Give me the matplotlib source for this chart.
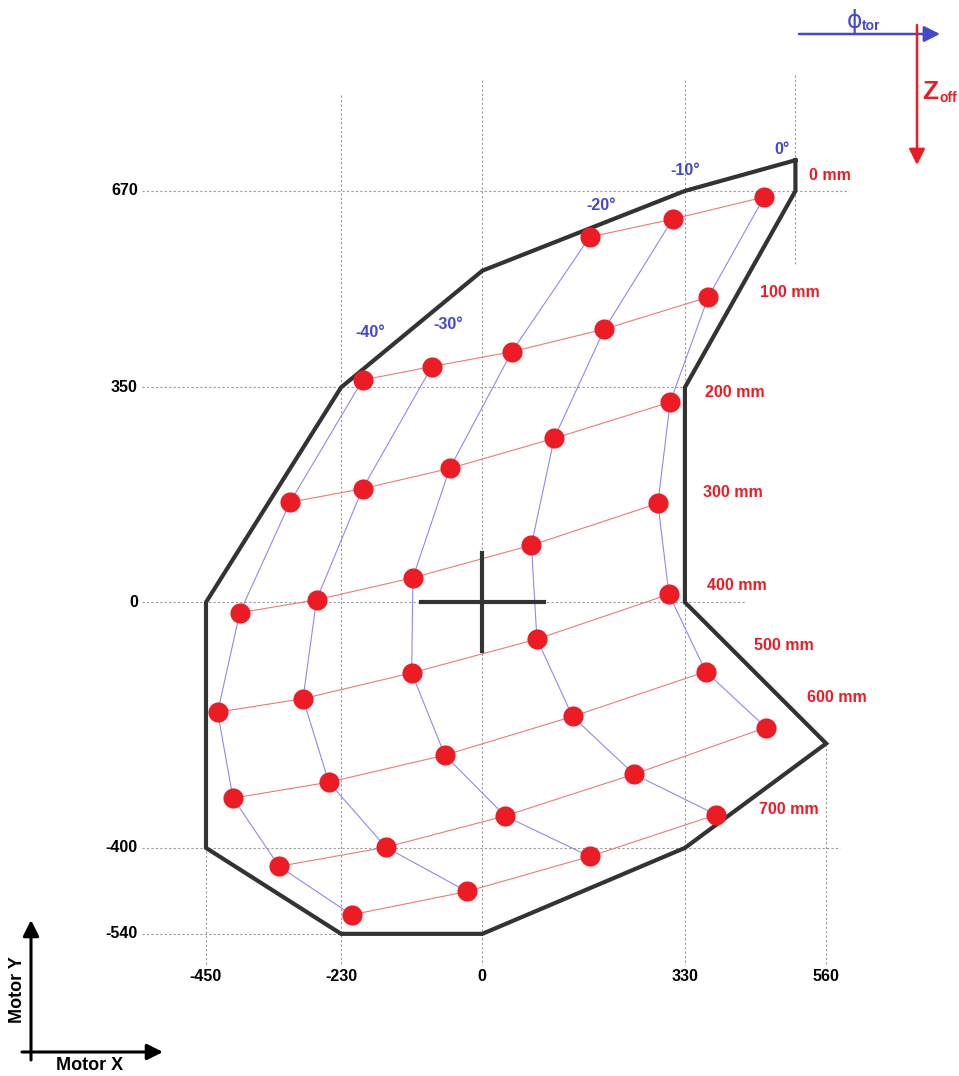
import numpy as np
import matplotlib.pyplot as plt

plt.rcParams['font.family'] = ['Liberation Sans', 'DejaVu Sans']
plt.rcParams['font.weight'] = 'bold'

#############################################################################
# data
#############################################################################

z_off = [0, 100, 200, 300, 400, 500, 600, 700]      # mm, one row each
phi_tor = [0, -10, -20, -30, -40]                    # deg, one column each

nan = np.nan
# motor X / motor Y of each calibration point [row = z_off][col = phi_tor]
motor_x = [
    [459, 310, 175, nan, nan],
    [368, 199, 48, -82, -195],
    [306, 117, -53, -195, -313],
    [286, 80, -113, -270, -395],
    [304, 89, -115, -292, -431],
    [364, 147, -61, -250, -406],
    [462, 247, 37, -157, -331],
    [nan, 381, 175, -25, -213],
]
motor_y = [
    [660, 624, 595, nan, nan],
    [497, 445, 408, 384, 362],
    [326, 267, 218, 185, 163],
    [161, 93, 40, 4, -17],
    [13, -60, -115, -157, -179],
    [-113, -186, -249, -293, -319],
    [-204, -280, -348, -399, -430],
    [nan, -346, -414, -471, -509],
]

# travel limit of the motors
limit_x = [510, 510, 330, 330, 560, 330, 0, -230, -450, -450, -230, 0, 330, 510]
limit_y = [720, 670, 350, 0, -230, -400, -540, -540, -400, 0, 350, 540, 670, 720]

x_ticks = [-450, -230, 0, 330, 560]
y_ticks = [670, 350, 0, -400, -540]

mx = np.array(motor_x, dtype=float)
my = np.array(motor_y, dtype=float)

#############################################################################
# plot
#############################################################################

red = '#ed1c24'
blue = '#4348cc'
dark = '#333333'
grey = '#9a9a9a'

fig = plt.figure(figsize=(9.59, 10.76), dpi=100)
ax = fig.add_axes([0, 0, 1, 1])
ax.set_xlim(-785.5, 776.4)
ax.set_ylim(-771.5, 980.9)
ax.set_aspect('equal')
ax.axis('off')

# dotted guide lines
dot = dict(color=grey, lw=0.8, ls=(0, (2, 2)), zorder=1)
for x, y0, y1 in [(-450, 0, -590), (-230, 826, -590), (0, 850, -590),
                  (330, 850, -590), (560, -230, -590), (510, 858, 549)]:
    ax.plot([x, x], [y0, y1], **dot)
for y, x0, x1 in [(670, -555, 598), (350, -555, 330), (0, -555, 430),
                  (-400, -555, 582), (-540, -555, 0)]:
    ax.plot([x0, x1], [y, y], **dot)

# limit polygon
ax.plot(limit_x, limit_y, color=dark, lw=3, solid_joinstyle='miter', zorder=3)

# centre cross
ax.plot([-100, 100], [0, 0], color=dark, lw=3, zorder=3)
ax.plot([0, 0], [-80, 80], color=dark, lw=3, zorder=3)

# constant z rows (red) and constant angle columns (blue)
for i in range(len(z_off)):
    ok = ~np.isnan(mx[i])
    ax.plot(mx[i][ok], my[i][ok], color='#f07878', lw=0.8, zorder=2)
for j in range(len(phi_tor)):
    ok = ~np.isnan(mx[:, j])
    ax.plot(mx[:, j][ok], my[:, j][ok], color='#8c8ce8', lw=0.8, zorder=2)

ax.plot(mx.ravel(), my.ravel(), 'o', color=red, ms=14.5, mew=0, zorder=4)

# row / column labels
mm_pos = [(567, 695), (501, 504), (412, 341), (408, 178),
          (414, 27), (491, -71), (577, -155), (500, -338)]
for z, (x, y) in zip(z_off, mm_pos):
    ax.text(x, y, '{} mm'.format(z), color=red, fontsize=11.5, fontweight='bold',
            ha='center', va='center')
ang_pos = [(488, 738), (330, 703), (194, 647), (-55, 452), (-183, 439)]
for p, (x, y) in zip(phi_tor, ang_pos):
    ax.text(x, y, '{}°'.format(p), color=blue, fontsize=11.5, fontweight='bold',
            ha='center', va='center')

# tick labels
for x in x_ticks:
    ax.text(x, -610, str(x), fontsize=11.5, fontweight='bold', ha='center', va='center')
for y in y_ticks:
    ax.text(-561, y, str(y), fontsize=11.5, fontweight='bold', ha='right', va='center')

# legend arrows (pixel positions -> figure fraction)
W, H = 959.0, 1076.0
def fp(px, py):
    return (px / W, 1 - py / H)

def arrow(p0, p1, color, lw, ms):
    ax.annotate('', xy=fp(*p1), xytext=fp(*p0), xycoords='figure fraction',
                textcoords='figure fraction',
                arrowprops=dict(arrowstyle='-|>', color=color, lw=lw,
                                mutation_scale=ms, shrinkA=0, shrinkB=0))

arrow((799, 34), (940, 34), blue, 1.8, 24)
arrow((917, 25), (917, 165), red, 1.8, 24)
fig.text(*fp(855, 21), '\u03d5', color=blue, fontsize=17, ha='center', va='center',
         family='DejaVu Sans', fontweight='normal')
fig.text(*fp(871, 26), 'tor', color=blue, fontsize=10, ha='center', va='center')
fig.text(*fp(930, 92), 'Z', color=red, fontsize=19, ha='center', va='center')
fig.text(*fp(948, 98), 'off', color=red, fontsize=10, ha='center', va='center')

arrow((31, 1060), (31, 920), 'black', 2.2, 24)
arrow((22, 1052), (163, 1052), 'black', 2.2, 24)
fig.text(*fp(18, 990), 'Motor Y', fontsize=13, rotation=90, ha='center', va='center')
fig.text(*fp(90, 1065), 'Motor X', fontsize=13, ha='center', va='center')

plt.savefig('out.png', dpi=100)
